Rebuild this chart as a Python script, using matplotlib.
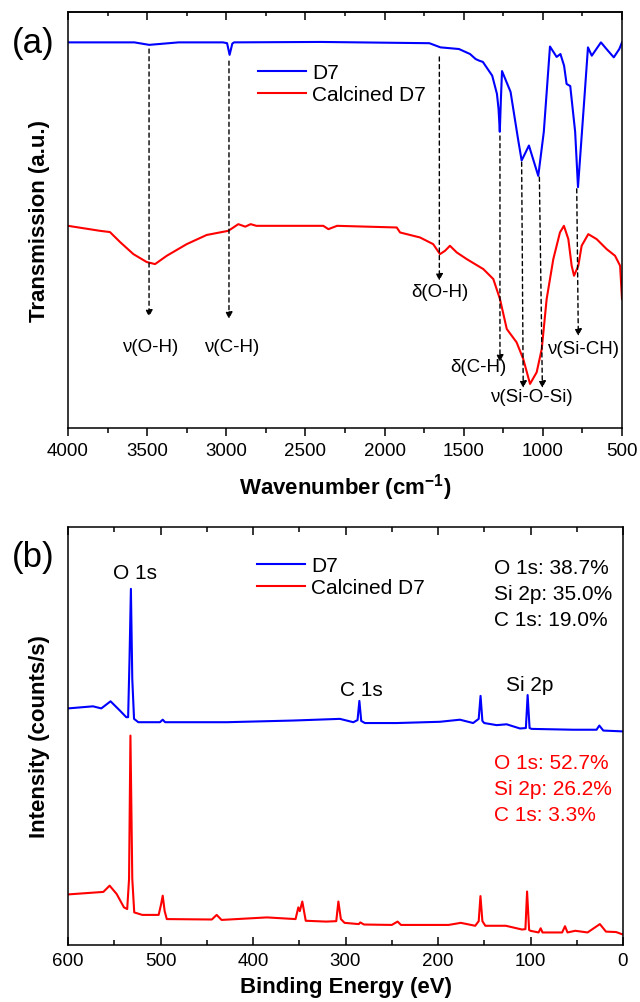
import matplotlib
matplotlib.use("Agg")
import matplotlib.pyplot as plt
from matplotlib.ticker import MultipleLocator

plt.rcParams['font.family'] = ['Liberation Sans', 'DejaVu Sans']
plt.rcParams['mathtext.fontset'] = 'custom'
plt.rcParams['mathtext.rm'] = 'Liberation Sans'
plt.rcParams['mathtext.bf'] = 'Liberation Sans:bold'

# ---------------- Panel (a): FTIR ----------------
ftir_d7_wn = [4000, 3581, 3487, 3301, 3021, 2995, 2979, 2962, 2951, 2400, 1717, 1647, 1530, 1460, 1425,
              1402, 1379, 1320, 1290, 1280, 1272, 1265, 1258, 1204, 1157, 1134, 1088, 1029,
              994, 955, 913, 889, 866, 850, 827, 796, 778, 738, 715, 691, 633, 598, 552, 517, 500]
ftir_d7_t = [92.7, 92.7, 92.1, 92.7, 92.7, 92.5, 89.7, 92.4, 92.7, 92.8, 92.5, 91.5, 91.1, 89.9, 88.7,
             88.3, 88.0, 84.7, 80.3, 76.7, 71.2, 79.1, 85.8, 80.8, 69.5, 64.3, 67.9, 60.6,
             71.2, 91.7, 89.2, 89.9, 87.1, 82.7, 82.2, 71.2, 57.9, 79.1, 91.5, 89.5, 92.7, 91.1, 89.1, 91.1, 92.7]

ftir_cal_wn = [4000, 3798, 3735, 3671, 3587, 3503, 3450, 3376, 3250, 3124, 2987, 2924, 2880, 2846,
               2810, 2387, 2355, 2300, 1923, 1902, 1776, 1693, 1650, 1618, 1587, 1544, 1481, 1376,
               1313, 1271, 1228, 1166, 1124, 1081, 1039, 1007, 976, 934, 892, 867, 839, 818, 803,
               776, 755, 713, 660, 597, 544, 512, 500]
ftir_cal_t = [48.6, 47.4, 47.1, 44.7, 41.8, 39.9, 39.4, 41.4, 44.2, 46.4, 47.4, 49.0, 48.4, 49.0,
              48.6, 48.6, 47.8, 48.6, 48.2, 47.0, 45.8, 44.2, 41.8, 42.6, 43.8, 42.2, 40.6, 38.2,
              35.8, 31.0, 23.8, 20.6, 16.6, 10.6, 13.4, 19.0, 31.0, 40.6, 47.0, 48.6, 45.4, 39.0, 36.6,
              39.0, 43.8, 46.6, 45.4, 43.0, 41.4, 39.0, 31.0]

ftir_labels = ['ν(O-H)', 'ν(C-H)', 'δ(O-H)', 'δ(C-H)', 'ν(Si-O-Si)', 'ν(Si-CH)']
ftir_label_pos = [(3480, 19.5), (2964, 19.7), (1650, 32.7), (1410, 14.9), (1070, 7.6), (746, 19.0)]
# arrows: (start wn, start T, end wn, end T)
ftir_arrows = [(3488, 91.1, 3488, 26.7), (2983, 88.2, 2983, 26.2), (1654, 89.2, 1654, 35.4),
               (1271, 70.2, 1271, 15.9), (1134, 63.9, 1124, 9.6), (1022, 60.3, 1003, 9.6),
               (786, 57.5, 776, 22.1)]

# ---------------- Panel (b): XPS ----------------
xps_d7_be = [600, 573, 564, 554, 544, 537, 535, 533.5, 532, 530.5, 528.6, 524, 500.6, 497.6, 495,
             428.5, 356.4, 306, 291.6, 287, 285, 283, 279, 244.7, 198, 176.3, 162, 156, 154, 152,
             150, 136.6, 125.8, 111.4, 105, 103.1, 101, 98.8, 53.8, 28.6, 25.6, 21.3, 0]
xps_d7_i = [56.6, 57.1, 56.6, 58.3, 56.1, 54.5, 54.5, 68.4, 85.2, 63.6, 54.1, 53.3, 53.3, 53.9, 53.3,
            53.3, 53.7, 54.1, 53.3, 53.8, 58.4, 53.6, 53.1, 53.1, 53.4, 53.9, 53.1, 54.1, 59.6, 53.6,
            53.1, 52.6, 52.8, 51.8, 51.9, 59.8, 51.9, 51.7, 51.5, 51.5, 52.5, 51.3, 51.1]

xps_cal_be = [600, 561.8, 555, 547.4, 539.5, 536, 534, 532.5, 530.5, 528.4, 519.7, 502, 499.5, 497.6,
              495.5, 493.2, 444.5, 439.3, 434, 385, 354, 351, 349.4, 346.7, 343, 321, 310, 307.7,
              305, 301, 285.6, 284, 280, 250, 243.7, 240, 188.6, 175.3, 159.8, 156, 154.1, 152,
              148.8, 126.7, 109.1, 105.5, 103.7, 101.5, 100.1, 91.3, 89, 87, 65.8, 62.7, 60, 51.6,
              38.3, 25, 18.4, 7.5, 0]
xps_cal_i = [12.1, 12.7, 14.2, 12.2, 9.0, 8.6, 15.8, 50.1, 15.8, 7.8, 7.2, 7.2, 9.6, 11.8,
             8.1, 6.2, 6.1, 7.2, 6.0, 6.6, 6.2, 9.0, 8.1, 10.4, 5.8, 5.6, 5.7, 10.4,
             6.2, 5.3, 5.0, 5.4, 4.9, 4.8, 5.6, 4.8, 4.8, 5.3, 4.6, 5.7, 11.7, 5.7,
             4.6, 4.6, 3.7, 3.8, 12.8, 3.6, 3.4, 3.0, 4.0, 3.0, 3.0, 4.5, 3.0, 3.4,
             3.0, 5.0, 3.2, 3.1, 2.5]

xps_peak_labels = ['O 1s', 'C 1s', 'Si 2p']
xps_peak_pos = [(527.6, 89.0), (283.3, 61.2), (100.6, 62.4)]
comp_d7 = ['O 1s: 38.7%', 'Si 2p: 35.0%', 'C 1s: 19.0%']
comp_cal = ['O 1s: 52.7%', 'Si 2p: 26.2%', 'C 1s: 3.3%']
comp_x = 139.5
comp_d7_y = [90.4, 84.0, 77.8]
comp_cal_y = [43.7, 37.5, 31.3]

series_names = ['D7', 'Calcined D7']
BLUE = '#0000ff'
RED = '#ff0000'

W, H = 640, 1003
fig = plt.figure(figsize=(W / 100, H / 100), dpi=100)
ax1 = fig.add_axes([68 / W, 1 - 429 / H, 554 / W, 416 / H])
ax2 = fig.add_axes([68 / W, 1 - 946 / H, 555 / W, 418 / H])

TICK_FS = 13.5
LABEL_FS = 16
ANN_FS = 13.5
TXT_FS = 15

# ---- panel a ----
ax1.plot(ftir_d7_wn, ftir_d7_t, color=BLUE, lw=1.5, label=series_names[0])
ax1.plot(ftir_cal_wn, ftir_cal_t, color=RED, lw=1.5, label=series_names[1])
ax1.set_xlim(4000, 500)
ax1.set_ylim(0, 100)
ax1.xaxis.set_major_locator(MultipleLocator(500))
ax1.xaxis.set_minor_locator(MultipleLocator(250))
ax1.set_yticks([])
ax1.tick_params(axis='x', which='major', direction='out', length=6, width=1.1, labelsize=TICK_FS, pad=4)
ax1.tick_params(axis='x', which='minor', direction='out', length=3.5, width=1.1)
sec = ax1.secondary_xaxis('top')
sec.xaxis.set_major_locator(MultipleLocator(500))
sec.xaxis.set_minor_locator(MultipleLocator(250))
sec.tick_params(axis='x', which='major', direction='in', length=6, width=1.1, labeltop=False)
sec.tick_params(axis='x', which='minor', direction='in', length=3, width=1.1)
for s in list(ax1.spines.values()) + [sec.spines['top']]:
    s.set_linewidth(1.1)

for (x0, y0, x1, y1) in ftir_arrows:
    ax1.annotate('', xy=(x1, y1), xytext=(x0, y0),
                 arrowprops=dict(arrowstyle='-|>', ls=(0, (3, 2.5)), lw=1.0, color='black',
                                 shrinkA=0, shrinkB=0, mutation_scale=10))
for lab, (x, y) in zip(ftir_labels, ftir_label_pos):
    ax1.text(x, y, lab, fontsize=ANN_FS, ha='center', va='center')

leg1 = ax1.legend(loc='upper left', bbox_to_anchor=(0.343, 0.877), frameon=False, fontsize=TXT_FS,
                  handlelength=2.3, handletextpad=0.3, labelspacing=0.15, borderpad=0, borderaxespad=0)
ax1.set_xlabel('Wavenumber (cm$^{\\mathbf{-1}}$)', fontsize=LABEL_FS, fontweight='bold', va='center')
ax1.xaxis.set_label_coords(0.5, -(488 - 429) / 416)
ax1.set_ylabel('Transmission (a.u.)', fontsize=LABEL_FS, fontweight='bold', va='center')
ax1.yaxis.set_label_coords((40 - 68) / 554, 0.5)

# ---- panel b ----
ax2.plot(xps_d7_be, xps_d7_i, color=BLUE, lw=1.5, label=series_names[0])
ax2.plot(xps_cal_be, xps_cal_i, color=RED, lw=1.5, label=series_names[1])
ax2.set_xlim(600, 0)
ax2.set_ylim(0, 100)
ax2.xaxis.set_major_locator(MultipleLocator(100))
ax2.xaxis.set_minor_locator(MultipleLocator(50))
ax2.set_yticks([])
ax2.tick_params(axis='x', which='major', direction='in', top=True, length=6, width=1.1, labelsize=TICK_FS, pad=5)
ax2.tick_params(axis='x', which='minor', direction='in', top=True, length=3.5, width=1.1)
for s in ax2.spines.values():
    s.set_linewidth(1.1)

for lab, (x, y) in zip(xps_peak_labels, xps_peak_pos):
    ax2.text(x, y, lab, fontsize=TXT_FS, ha='center', va='center')
for lab, y in zip(comp_d7, comp_d7_y):
    ax2.text(comp_x, y, lab, fontsize=TXT_FS, ha='left', va='center', color='black')
for lab, y in zip(comp_cal, comp_cal_y):
    ax2.text(comp_x, y, lab, fontsize=TXT_FS, ha='left', va='center', color=RED)

leg2 = ax2.legend(loc='upper left', bbox_to_anchor=(0.340, 0.931), frameon=False, fontsize=TXT_FS,
                  handlelength=2.3, handletextpad=0.3, labelspacing=0.15, borderpad=0, borderaxespad=0)
ax2.set_xlabel('Binding Energy (eV)', fontsize=LABEL_FS, fontweight='bold', va='center')
ax2.xaxis.set_label_coords(0.5, -(988 - 946) / 418)
ax2.set_ylabel('Intensity (counts/s)', fontsize=LABEL_FS, fontweight='bold', va='center')
ax2.yaxis.set_label_coords((40 - 68) / 555, 0.5)

fig.text(33 / W, 1 - 43 / H, '(a)', fontsize=25, ha='center', va='center')
fig.text(33 / W, 1 - 557 / H, '(b)', fontsize=25, ha='center', va='center')

fig.savefig('out.png', dpi=100)
